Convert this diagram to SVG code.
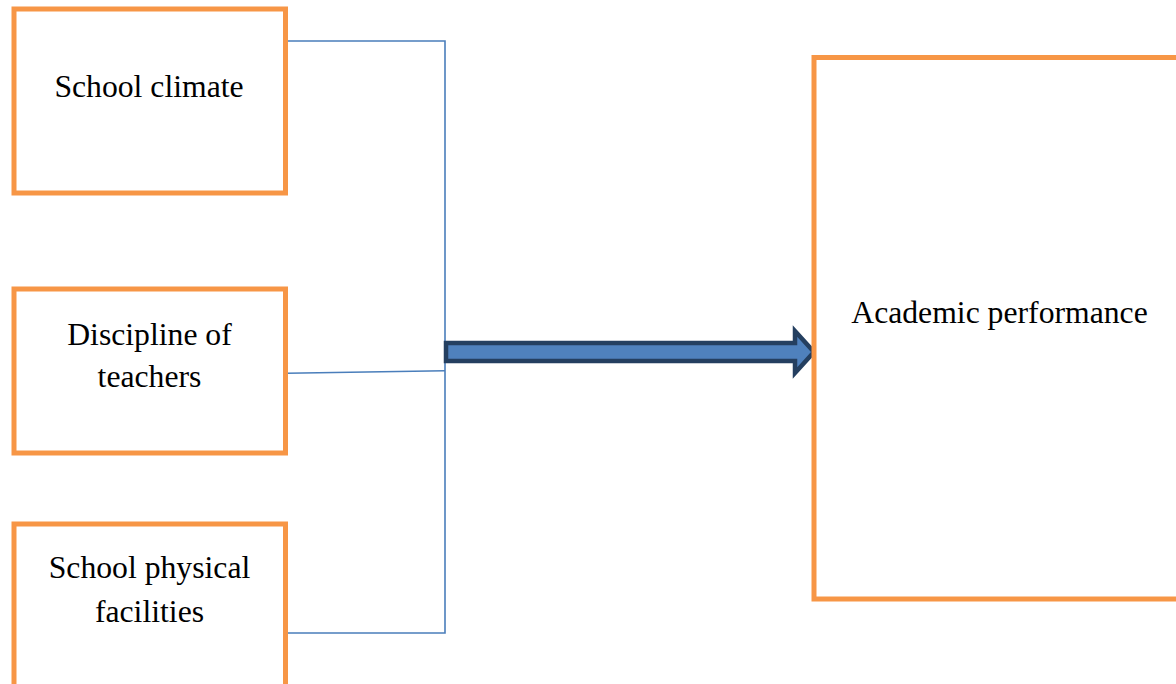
<svg xmlns="http://www.w3.org/2000/svg" width="1176" height="684" viewBox="0 0 1176 684">
  <style>
    .box { fill: #ffffff; stroke: #f79646; stroke-width: 5; }
    .label { font-family: "Liberation Serif", "Times New Roman", serif; font-size: 31.7px; fill: #000000; text-anchor: middle; }
    .link { fill: none; stroke: #4a7ebb; stroke-width: 1.6; }
    .flow { fill: #4f81bd; stroke: #243f60; stroke-width: 4.5; stroke-linejoin: miter; }
  </style>
  <rect width="1176" height="684" fill="#ffffff"/>

  <g id="connectors">
    <polyline class="link" points="287,41 445,41 445,633 287,633"/>
    <line class="link" x1="287" y1="373.3" x2="445" y2="370.8"/>
    <polygon class="flow" points="446,343 795,343 795,331 814,352 795,373 795,361 446,361"/>
  </g>

  <g id="school-climate">
    <rect class="box" x="14" y="9" width="271.5" height="184"/>
    <text class="label" x="149" y="97">School climate</text>
  </g>

  <g id="discipline-of-teachers">
    <rect class="box" x="14" y="289" width="271.5" height="164"/>
    <text class="label" x="149.5" y="345">Discipline of</text>
    <text class="label" x="149.5" y="387">teachers</text>
  </g>

  <g id="school-physical-facilities">
    <rect class="box" x="14" y="524" width="271.5" height="170"/>
    <text class="label" x="149.5" y="578">School physical</text>
    <text class="label" x="149.5" y="622">facilities</text>
  </g>

  <g id="academic-performance">
    <rect class="box" x="814" y="57.5" width="380" height="541.5"/>
    <text class="label" x="999.5" y="323">Academic performance</text>
  </g>
</svg>
